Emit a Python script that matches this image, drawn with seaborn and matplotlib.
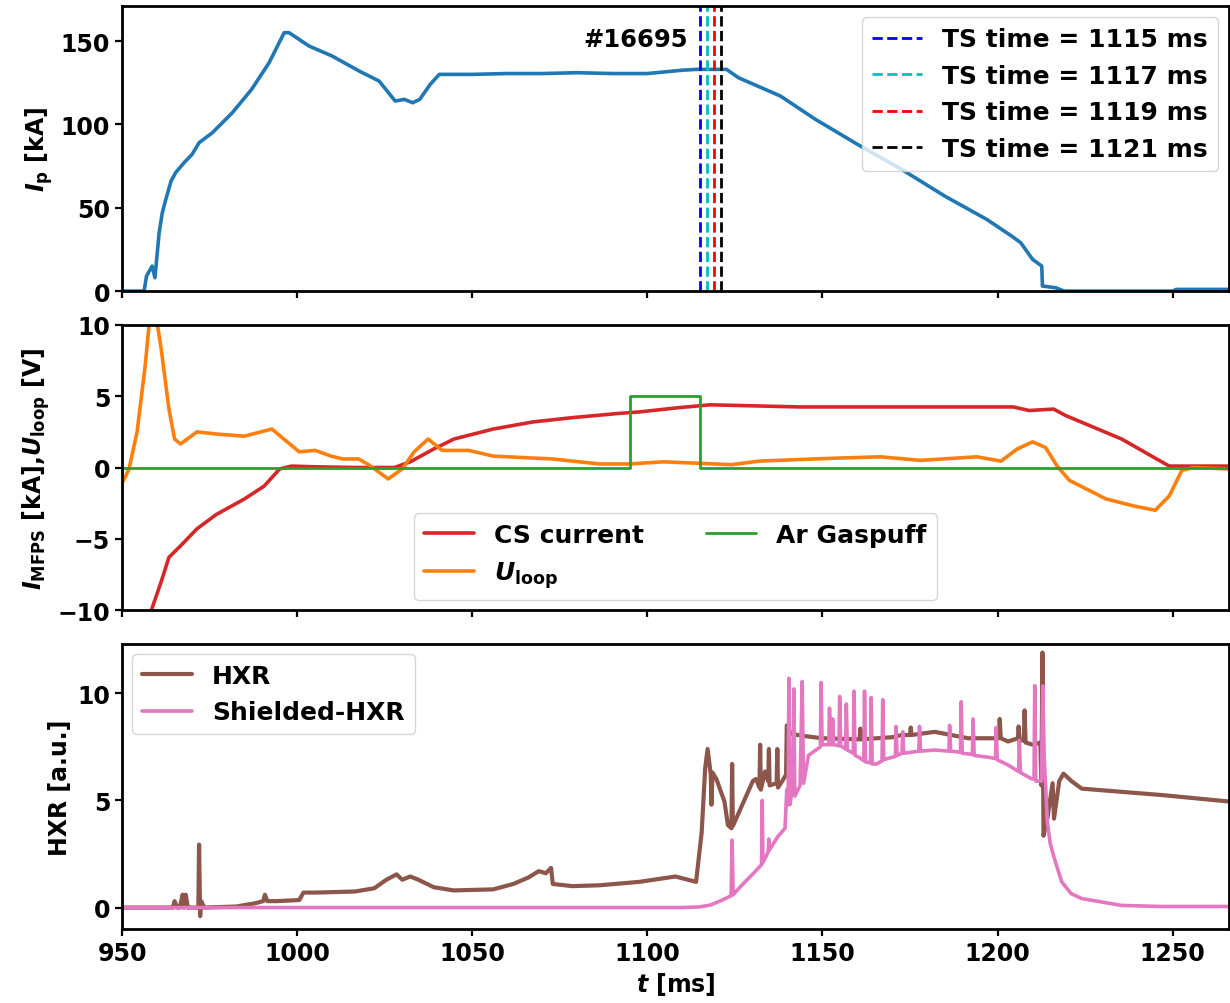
import matplotlib
matplotlib.use("Agg")
import matplotlib.pyplot as plt
import seaborn as sns

# ---------------- data ----------------
ip_t = [950, 956.3, 957, 958.6, 959.4, 960.6, 961.5, 962.5, 964, 965.3, 967.7, 970, 972,
        975.8, 981.5, 987, 992, 996.3, 997.7, 1003.4, 1010, 1017.7, 1023.4, 1028, 1030.6,
        1033, 1035, 1038, 1040.6, 1050, 1060, 1070, 1080, 1090, 1100, 1105, 1110, 1114,
        1118, 1122.6, 1126, 1138, 1148, 1160, 1172.6, 1184.9, 1196.9, 1204, 1206.6, 1210,
        1212.6, 1212.8, 1216.6, 1219, 1240, 1250, 1251, 1266]
ip_v = [0, 0, 9, 15, 8, 35, 47, 55, 66, 71, 77, 82, 89, 95, 107, 121, 137, 155, 155, 147,
        141, 132, 126, 114, 115, 113, 115, 124, 130, 130, 130.5, 130.5, 131, 130.5, 130.5,
        131.5, 132.5, 133, 133, 133, 128, 117, 103, 88, 73, 57, 43, 33, 29, 19, 15, 3, 2,
        0, 0, 0, 1, 1]

ts_times = [1115, 1117, 1119, 1121]
ts_colors = ["b", "c", "r", "k"]
shot_label = "#16695"

cs_t = [957, 958.4, 961.2, 963.4, 966.7, 971.4, 976.9, 985, 990.6, 995, 998.4, 1005.2,
        1016.5, 1027.8, 1032.3, 1039, 1044.8, 1056, 1067.4, 1078.6, 1092, 1097.7, 1109,
        1118, 1126.4, 1143.6, 1178, 1204.5, 1209, 1216, 1219.4, 1235.4, 1249, 1266]
cs_v = [-12.5, -10, -8.0, -6.3, -5.5, -4.3, -3.3, -2.2, -1.3, -0.1, 0.1, 0.05, 0, 0, 0.4,
        1.3, 2.0, 2.7, 3.2, 3.5, 3.8, 3.9, 4.2, 4.4, 4.35, 4.25, 4.25, 4.25, 4.0, 4.1, 3.65,
        2.0, 0.1, 0.1]

ul_t = [950, 950.4, 952, 954.3, 956.6, 957.8, 958.9, 960, 961.2, 963.4, 965, 966.7, 971.4,
        976.9, 984.9, 992.8, 996.2, 1000.6, 1005.2, 1009.7, 1013, 1017.6, 1021, 1026, 1030,
        1033.4, 1037.4, 1041.4, 1049, 1056, 1072.9, 1086.3, 1094.9, 1104.6, 1114.3, 1124,
        1132, 1152.8, 1166.6, 1178, 1194, 1201, 1205.6, 1210, 1213.7, 1217, 1220.5, 1230.9,
        1238.9, 1245, 1249, 1252.6, 1256, 1266]
ul_v = [-0.9, -0.93, -0.1, 2.5, 7.1, 10.2, 11.5, 10.2, 8.3, 4.1, 2.0, 1.65, 2.5, 2.35, 2.2,
        2.7, 2.0, 1.1, 1.2, 0.8, 0.6, 0.6, 0.1, -0.8, -0.1, 1.1, 2.0, 1.2, 1.2, 0.8, 0.6,
        0.25, 0.25, 0.4, 0.3, 0.2, 0.45, 0.65, 0.75, 0.5, 0.75, 0.45, 1.3, 1.8, 1.4, 0.1,
        -0.9, -2.2, -2.7, -3.0, -2.0, -0.2, 0.0, -0.1]

gas_t = [950, 1095, 1095, 1115, 1115, 1266]
gas_v = [0, 0, 5, 5, 0, 0]

hxr_t = [950, 964.5, 965, 965.8, 966.5, 967.3, 967.7, 968.2, 968.8, 971.8, 972.0, 972.3,
         972.6, 973.5, 982.6, 988, 990.3, 990.8, 991.5, 994, 1000.6, 1001.8, 1005.2, 1016.5,
         1022, 1025.5, 1028.4, 1030, 1032.3, 1034.6, 1039, 1044.7, 1056, 1061.7, 1066, 1069,
         1071, 1072.5, 1073, 1078.6, 1086.3, 1097.7, 1108, 1113.9,
         1115.5, 1116.5, 1117.2, 1117.8, 1118.1, 1118.3, 1118.6, 1119.7, 1122.0, 1123.0,
         1124.0, 1124.2, 1124.4, 1126.3, 1130.1, 1131.0, 1132.0, 1132.2, 1132.4, 1133.6,
         1134.5, 1134.7, 1134.9, 1136.9, 1137.1, 1137.3, 1138.5, 1139.6, 1139.8, 1141,
         1145, 1150, 1160.6, 1160.8, 1161.0, 1170, 1172.6, 1175.0, 1175.2, 1175.4, 1182,
         1191.6, 1197, 1200.4, 1200.6, 1200.9, 1203, 1205.8, 1206.0, 1206.3, 1207.5,
         1207.7, 1208.0, 1210, 1212.2, 1212.5, 1212.8, 1213.1, 1214.2, 1215.7, 1216.1,
         1217.6, 1218.8, 1221.1, 1224, 1235.4, 1246.9, 1266]
hxr_v = [0, 0, 0.3, 0, 0, 0.6, 0.0, 0.6, 0, 0, 2.94, -0.4, 0.3, 0.0, 0.05, 0.2, 0.3, 0.6,
         0.3, 0.3, 0.35, 0.7, 0.7, 0.75, 0.9, 1.3, 1.55, 1.3, 1.45, 1.3, 0.95, 0.8, 0.85,
         1.1, 1.4, 1.7, 1.6, 1.85, 1.1, 1.0, 1.04, 1.2, 1.45, 1.2,
         3.5, 6.5, 7.4, 6.6, 6.2, 4.8, 6.3, 6.0, 4.95, 3.85,
         3.7, 6.7, 3.8, 4.5, 5.9, 6.0, 5.6, 7.6, 5.5, 6.35,
         5.9, 7.4, 5.7, 5.8, 7.4, 5.6, 5.9, 6.2, 8.5, 8.1,
         8.0, 7.9, 7.85, 8.35, 7.85, 7.95, 8.05, 8.05, 8.4, 8.05, 8.2,
         7.9, 7.9, 7.9, 8.8, 7.9, 7.75, 7.9, 8.45, 7.8, 7.8,
         9.2, 7.7, 7.6, 7.7, 5.7, 11.9, 3.35, 4.15, 5.8, 4.15,
         5.9, 6.25, 5.9, 5.55, 5.4, 5.25, 4.95]

shx_t = [950, 1110, 1114.9, 1118, 1120.7, 1123.9, 1124.2, 1124.5, 1127, 1130, 1132.6,
         1132.8, 1133.0, 1134.5, 1134.7, 1134.9, 1137.2, 1139.3, 1139.8, 1140.2, 1140.4,
         1140.7, 1141.5, 1141.8, 1142.1, 1143.6, 1144.2, 1144.6, 1146, 1149.4, 1149.6,
         1149.9, 1151.8, 1152.0, 1152.3, 1152.7, 1152.9, 1153.2, 1154.7, 1154.9, 1155.2,
         1156.6, 1156.8, 1157.1, 1158.8, 1159.0, 1159.3, 1160.5, 1161.8, 1162.0, 1162.3,
         1163.7, 1163.9, 1164.2, 1165.5, 1167.0, 1167.2, 1167.5, 1169.6, 1170.8, 1171.0,
         1171.3, 1172.7, 1172.9, 1173.2, 1177.5, 1177.7, 1178.0, 1182, 1186.1, 1186.3,
         1186.6, 1189.4, 1189.6, 1189.9, 1192.8, 1193.0, 1193.3, 1198, 1199.4, 1199.6,
         1199.9, 1203, 1204.5, 1206, 1206.2, 1206.5, 1209.8, 1210.4, 1210.6, 1210.9,
         1212.5, 1212.9, 1213.3, 1214.2, 1215, 1216, 1218.3, 1221, 1224, 1235.4, 1246.9,
         1266]
shx_v = [0, 0, 0.03, 0.12, 0.3, 0.55, 3.15, 0.6, 1.05, 1.55, 2.0,
         5.0, 2.1, 2.6, 3.2, 2.7, 3.3, 3.7, 5.5, 4.8, 10.7,
         4.8, 5.6, 10.2, 5.2, 5.7, 10.55, 5.8, 7.1, 7.5, 10.5,
         7.6, 7.6, 9.3, 7.6, 7.6, 8.8, 7.6, 7.55, 9.85, 7.55,
         7.4, 9.5, 7.35, 7.2, 10.1, 7.1, 7.0, 6.85, 10.1, 6.8,
         6.75, 9.8, 6.7, 6.7, 6.85, 9.7, 6.9, 7.0, 7.05, 8.45,
         7.1, 7.2, 8.2, 7.2, 7.3, 8.45, 7.3, 7.35, 7.3, 8.5,
         7.3, 7.25, 9.6, 7.2, 7.15, 8.8, 7.1, 7.0, 6.95, 8.4,
         6.9, 6.65, 6.5, 6.35, 7.8, 6.3, 6.0, 6.0, 10.35, 5.9,
         5.9, 10.35, 7.0, 4.0, 3.0, 2.4, 1.2, 0.65, 0.42, 0.1, 0.05,
         0.05]

# ---------------- style ----------------
sns.set_style("ticks")
plt.rcParams.update({
    "font.family": ["DejaVu Sans"],
    "font.weight": "bold",
    "axes.labelweight": "bold",
    "font.size": 17,
    "text.color": "black",
    "axes.labelcolor": "black",
    "axes.edgecolor": "black",
    "xtick.color": "black",
    "ytick.color": "black",
    "axes.linewidth": 2.0,
    "xtick.major.width": 1.6,
    "ytick.major.width": 1.6,
    "xtick.major.size": 5,
    "ytick.major.size": 5,
    "mathtext.fontset": "custom",
    "mathtext.rm": "DejaVu Sans:bold",
    "mathtext.it": "DejaVu Sans:italic:bold",
    "mathtext.bf": "DejaVu Sans:bold",
})

fig, axes = plt.subplots(3, 1, figsize=(12.3, 10.04), dpi=100, sharex=True)
fig.subplots_adjust(left=0.0992, right=0.999, top=0.993, bottom=0.0737, hspace=0.119)
ax1, ax2, ax3 = axes

# --- top: plasma current
sns.lineplot(x=ip_t, y=ip_v, ax=ax1, color="#1f77b4", lw=2.6, estimator=None, sort=False)
for tt, cc in zip(ts_times, ts_colors):
    ax1.axvline(tt, color=cc, ls="--", lw=2, label=f"TS time = {tt} ms")
ax1.text(1111.5, 151, shot_label, ha="right", va="center", fontsize=17.5, fontweight="bold")
ax1.set_ylim(0, 171)
ax1.set_yticks([0, 50, 100, 150])
ax1.set_ylabel(r"$I_\mathrm{p}$ [kA]")
ax1.legend(loc="upper right", fontsize=18, borderaxespad=0.45)

# --- middle
sns.lineplot(x=cs_t, y=cs_v, ax=ax2, color="#d62728", lw=2.6, estimator=None, sort=False,
             label="CS current")
sns.lineplot(x=ul_t, y=ul_v, ax=ax2, color="#ff7f0e", lw=2.6, estimator=None, sort=False,
             label=r"$U_\mathrm{loop}$")
sns.lineplot(x=gas_t, y=gas_v, ax=ax2, color="#2ca02c", lw=2.0, estimator=None, sort=False,
             label="Ar Gaspuff")
ax2.set_ylim(-10, 10)
ax2.set_yticks([-10, -5, 0, 5, 10])
ax2.set_ylabel(r"$I_\mathrm{MFPS}$ [kA],$U_\mathrm{loop}$ [V]")
ax2.legend(loc="lower center", ncol=2, fontsize=18, borderaxespad=0.4, columnspacing=2.5)

# --- bottom
sns.lineplot(x=hxr_t, y=hxr_v, ax=ax3, color="#8c564b", lw=3.0, estimator=None, sort=False,
             label="HXR")
sns.lineplot(x=shx_t, y=shx_v, ax=ax3, color="#e377c2", lw=2.6, estimator=None, sort=False,
             label="Shielded-HXR")
ax3.set_ylim(-1.0, 12.3)
ax3.set_yticks([0, 5, 10])
ax3.set_ylabel("HXR [a.u.]")
ax3.legend(loc="upper left", fontsize=18, borderaxespad=0.4)

ax3.set_xlim(950, 1266)
ax3.set_xticks([950, 1000, 1050, 1100, 1150, 1200, 1250])
ax3.set_xlabel(r"$t$ [ms]")

for ax in axes:
    for s in ax.spines.values():
        s.set_visible(True)
        s.set_linewidth(2.0)
    ax.tick_params(labelsize=17)

fig.savefig("out.png", dpi=100)
